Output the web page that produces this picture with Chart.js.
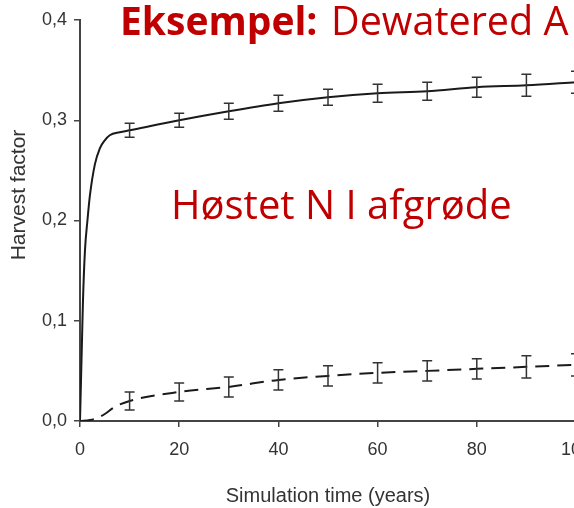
<!DOCTYPE html>
<html>
<head>
<meta charset="utf-8">
<script src="https://cdn.jsdelivr.net/npm/chart.js@4.4.1/dist/chart.umd.min.js"></script>
<style>
  html, body { margin: 0; padding: 0; overflow: hidden; background: #fff; }
  #wrap { width: 620px; height: 508px; }
</style>
</head>
<body>
<div id="wrap"><canvas id="harvestChart" width="620" height="508"></canvas></div>
<script>
// solid curve (harvest factor, upper series)
const solidYears  = [0, 0.2, 0.4, 0.6, 1, 1.5, 2, 3, 4, 5, 6, 8, 10, 20, 30, 40, 50, 60, 70, 80, 90, 100];
const solidFactor = [0, 0.04, 0.08, 0.12, 0.17, 0.20, 0.225, 0.256, 0.272, 0.28, 0.285, 0.288, 0.290, 0.300, 0.309, 0.317, 0.323, 0.327, 0.329, 0.333, 0.335, 0.338];
// dashed curve (lower series)
const dashedYears  = [0, 2, 3.5, 5, 7, 10, 20, 30, 40, 50, 60, 70, 80, 90, 100];
const dashedFactor = [0, 0.001, 0.003, 0.007, 0.014, 0.020, 0.029, 0.034, 0.041, 0.045, 0.048, 0.050, 0.052, 0.054, 0.056];
// error bars (half heights)
const errYears  = [10, 20, 30, 40, 50, 60, 70, 80, 90, 100];
const solidErr  = [0.007, 0.007, 0.008, 0.008, 0.008, 0.009, 0.009, 0.010, 0.011, 0.011];
const dashedErr = [0.009, 0.009, 0.010, 0.010, 0.010, 0.010, 0.010, 0.010, 0.011, 0.011];
// ticks
const xTicks = [0, 20, 40, 60, 80, 100];
const yTicks = [0, 0.1, 0.2, 0.3, 0.4];

const toPoints = (xs, ys) => xs.map((x, i) => ({ x: x, y: ys[i] }));
const errAt = (xs, ys, errs) => errYears.map((yr, i) => ({ x: yr, y: ys[xs.indexOf(yr)], e: errs[i] }));

const errorBars = {
  id: 'errorBars',
  afterDatasetsDraw(chart) {
    const { ctx, scales: { x, y } } = chart;
    ctx.save();
    ctx.strokeStyle = '#333';
    ctx.lineWidth = 1.5;
    chart.data.datasets.forEach(ds => {
      (ds.errors || []).forEach(p => {
        const px = x.getPixelForValue(p.x);
        const top = y.getPixelForValue(p.y + p.e);
        const bot = y.getPixelForValue(p.y - p.e);
        ctx.beginPath();
        ctx.moveTo(px, top); ctx.lineTo(px, bot);
        ctx.moveTo(px - 5, top); ctx.lineTo(px + 5, top);
        ctx.moveTo(px - 5, bot); ctx.lineTo(px + 5, bot);
        ctx.stroke();
      });
    });
    ctx.restore();
  }
};

const slideText = {
  id: 'slideText',
  afterDraw(chart) {
    const ctx = chart.ctx;
    ctx.save();
    ctx.fillStyle = '#c00000';
    ctx.textBaseline = 'alphabetic';
    ctx.font = 'bold 39px "Open Sans"';
    ctx.fillText('Eksempel:', 120, 35);
    ctx.font = '39.5px "Open Sans"';
    ctx.fillText('Dewatered A', 331, 35);
    ctx.font = '40px "Open Sans"';
    ctx.fillText('Høstet N I afgrøde', 171, 219);
    // y axis title
    ctx.fillStyle = '#333';
    ctx.font = '21px "Liberation Sans", Arial';
    ctx.textAlign = 'center';
    ctx.textBaseline = 'middle';
    ctx.translate(19, 195);
    ctx.rotate(-Math.PI / 2);
    ctx.fillText('Harvest factor', 0, 0);
    ctx.restore();
  }
};

const tickFont = { family: '"Liberation Sans", Arial', size: 18 };

new Chart(document.getElementById('harvestChart'), {
  type: 'line',
  data: {
    datasets: [{
      label: 'solid',
      data: toPoints(solidYears, solidFactor),
      errors: errAt(solidYears, solidFactor, solidErr),
      borderColor: '#1a1a1a',
      borderWidth: 2,
      pointRadius: 0,
      cubicInterpolationMode: 'monotone',
      fill: false
    }, {
      label: 'dashed',
      data: toPoints(dashedYears, dashedFactor),
      errors: errAt(dashedYears, dashedFactor, dashedErr),
      borderColor: '#1a1a1a',
      borderWidth: 2,
      borderDash: [14, 8],
      pointRadius: 0,
      cubicInterpolationMode: 'monotone',
      fill: false
    }]
  },
  options: {
    responsive: false,
    animation: false,
    layout: { padding: { left: 0, top: 20, right: 44, bottom: 0 } },
    plugins: {
      legend: { display: false },
      tooltip: { enabled: false }
    },
    scales: {
      x: {
        type: 'linear',
        min: 0, max: 100,
        afterBuildTicks: s => { s.ticks = xTicks.map(v => ({ value: v })); },
        afterFit: s => { s.height = 87; },
        ticks: { font: tickFont, color: '#333', padding: 12, maxRotation: 0 },
        grid: { drawOnChartArea: false, tickLength: 6, color: '#444', lineWidth: 1.5 },
        border: { color: '#444', width: 2 },
        title: {
          display: true,
          text: 'Simulation time (years)',
          color: '#333',
          font: { family: '"Liberation Sans", Arial', size: 20 },
          padding: { top: 0, bottom: 0 }
        }
      },
      y: {
        min: 0, max: 0.4,
        afterBuildTicks: s => { s.ticks = yTicks.map(v => ({ value: v })); },
        afterFit: s => { s.width = 80; },
        ticks: {
          font: tickFont, color: '#333', padding: 7,
          callback: v => v.toFixed(1).replace('.', ',')
        },
        grid: { drawOnChartArea: false, tickLength: 6, color: '#444', lineWidth: 1.5 },
        border: { color: '#444', width: 2 }
      }
    }
  },
  plugins: [errorBars, slideText]
});
</script>
</body>
</html>
